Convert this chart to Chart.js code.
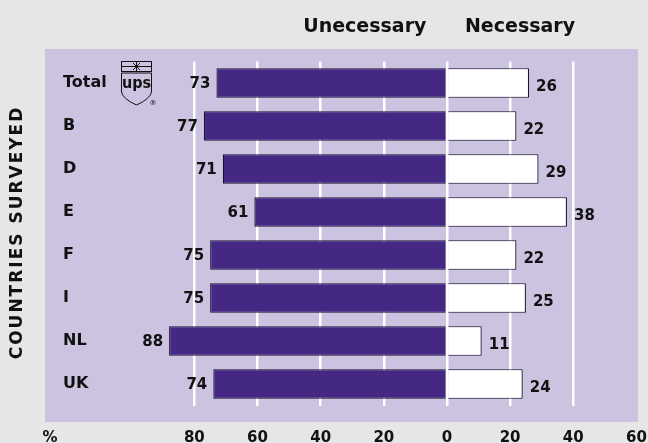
<!DOCTYPE html>
<html>
<head>
<meta charset="utf-8">
<script src="https://cdn.jsdelivr.net/npm/chart.js@4.4.1/dist/chart.umd.min.js"></script>
<style>
  html, body { margin: 0; padding: 0; background: #e6e6e6; }
  #wrap { width: 648px; height: 443px; position: relative; }
</style>
</head>
<body>
<div id="wrap"><canvas id="chart"></canvas></div>
<script>
// --- data ---
const countries = ["Total", "B", "D", "E", "F", "I", "NL", "UK"];
const unnecessary = [73, 77, 71, 61, 75, 75, 88, 74];
const necessary = [26, 22, 29, 38, 22, 25, 11, 24];
const axisTicks = [-80, -60, -40, -20, 0, 20, 40, 60];
const percentTick = -125.7;

const FONT = "'DejaVu Sans', sans-serif";
const PURPLE = "#452884";
const PANEL = "#cbc3e0";

// lilac panel behind the plot
const panelPlugin = {
  id: "panel",
  beforeDraw(chart) {
    const { ctx, chartArea: a } = chart;
    ctx.save();
    ctx.fillStyle = PANEL;
    ctx.fillRect(a.left, a.top - 12.5, a.right - a.left, a.bottom - a.top + 29);
    ctx.restore();
  }
};

// numbers at bar ends, column headers, side title, ups logo
const labelsPlugin = {
  id: "labels",
  afterDatasetsDraw(chart) {
    const { ctx, chartArea: a } = chart;
    const x = chart.scales.x;
    ctx.save();
    ctx.fillStyle = "#111";
    ctx.font = "bold 15px " + FONT;
    ctx.textBaseline = "middle";

    chart.getDatasetMeta(0).data.forEach((bar, i) => {
      ctx.textAlign = "right";
      ctx.fillText(unnecessary[i], bar.x - 6, bar.y + 1);
    });
    chart.getDatasetMeta(1).data.forEach((bar, i) => {
      ctx.textAlign = "left";
      ctx.fillText(necessary[i], bar.x + 7, bar.y + 4);
    });

    // headers
    ctx.font = "bold 19px " + FONT;
    ctx.textAlign = "right";
    ctx.fillText("Unecessary", x.getPixelForValue(-6.5), a.top - 34);
    ctx.textAlign = "left";
    ctx.fillText("Necessary", x.getPixelForValue(5.7), a.top - 34);

    // side title
    ctx.save();
    ctx.translate(18, (a.top + a.bottom) / 2);
    ctx.rotate(-Math.PI / 2);
    ctx.font = "bold 17px " + FONT;
    ctx.letterSpacing = "2px";
    ctx.textAlign = "center";
    ctx.fillText("COUNTRIES SURVEYED", 1, 0);
    ctx.restore();

    // ups shield
    const lx = 121, ly = 61;
    ctx.strokeStyle = "#111";
    ctx.lineWidth = 1;
    ctx.strokeRect(lx + 0.5, ly + 0.5, 30, 10);
    ctx.beginPath();
    ctx.moveTo(lx, ly + 5.5); ctx.lineTo(lx + 31, ly + 5.5);
    ctx.moveTo(lx + 15.5, ly + 1); ctx.lineTo(lx + 15.5, ly + 10);
    ctx.moveTo(lx + 12, ly + 2); ctx.lineTo(lx + 19, ly + 9);
    ctx.moveTo(lx + 19, ly + 2); ctx.lineTo(lx + 12, ly + 9);
    ctx.stroke();
    ctx.beginPath();
    ctx.moveTo(lx + 0.5, ly + 12);
    ctx.lineTo(lx + 30.5, ly + 12);
    ctx.lineTo(lx + 30.5, ly + 31);
    ctx.quadraticCurveTo(lx + 29, ly + 38, lx + 15.5, ly + 44);
    ctx.quadraticCurveTo(lx + 2, ly + 38, lx + 0.5, ly + 31);
    ctx.closePath();
    ctx.stroke();
    ctx.font = "bold 16px 'DejaVu Sans Condensed', " + FONT;
    ctx.textAlign = "center";
    ctx.fillText("ups", lx + 15.5, ly + 23);
    ctx.font = "7px " + FONT;
    ctx.fillText("®", lx + 32, ly + 42);
    ctx.restore();
  }
};

new Chart(document.getElementById("chart"), {
  type: "bar",
  data: {
    labels: countries,
    datasets: [
      {
        label: "Unecessary",
        data: unnecessary.map(v => -v),
        backgroundColor: PURPLE,
        borderColor: "#18122a",
        borderWidth: 1.2,
        borderSkipped: "start"
      },
      {
        label: "Necessary",
        data: necessary,
        backgroundColor: "#ffffff",
        borderColor: "#18122a",
        borderWidth: 1.2,
        borderSkipped: "start"
      }
    ]
  },
  options: {
    indexAxis: "y",
    responsive: true,
    maintainAspectRatio: false,
    animation: false,
    layout: { padding: { top: 61.5, right: 10, left: 0, bottom: 0 } },
    plugins: {
      legend: { display: false },
      tooltip: { enabled: false }
    },
    datasets: {
      bar: { categoryPercentage: 1, barPercentage: 0.69 }
    },
    scales: {
      x: {
        stacked: true,
        min: -127.3,
        max: 60.5,
        afterBuildTicks(scale) {
          scale.ticks = [{ value: percentTick }].concat(axisTicks.map(v => ({ value: v })));
        },
        afterFit(scale) {
          scale.height = 37.5;
          scale.paddingLeft = 0;
          scale.paddingRight = 0;
        },
        border: { display: false },
        grid: {
          drawTicks: false,
          lineWidth: 2.5,
          color: c => (c.tick && c.tick.value >= -80 && c.tick.value <= 40) ? "#ffffff" : "rgba(0,0,0,0)"
        },
        ticks: {
          padding: 24,
          color: "#111",
          font: { family: FONT, weight: "bold", size: 15 },
          callback: v => v === percentTick ? "%" : Math.abs(v)
        }
      },
      y: {
        stacked: true,
        position: "left",
        afterFit(scale) { scale.width = 45; },
        border: { display: false },
        grid: { display: false, drawTicks: false },
        ticks: {
          mirror: true,
          padding: 18,
          color: "#111",
          font: { family: FONT, weight: "bold", size: 16 }
        }
      }
    }
  },
  plugins: [panelPlugin, labelsPlugin]
});
</script>
</body>
</html>
